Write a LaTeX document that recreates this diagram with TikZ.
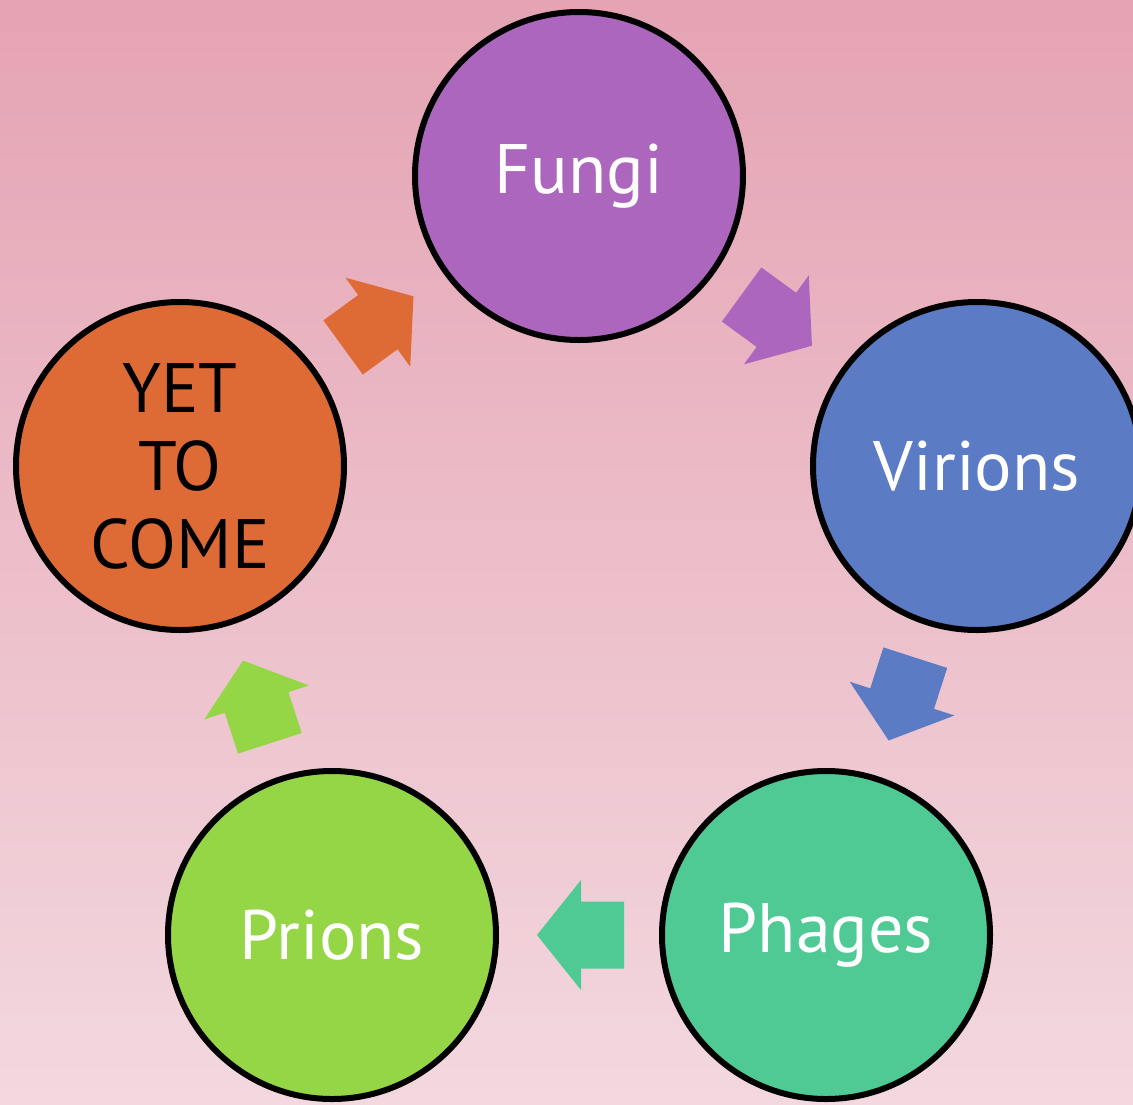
\documentclass[tikz,border=0pt]{standalone}
\usepackage{fontspec}
\setmainfont{PT Sans}
\usetikzlibrary{calc}
\definecolor{bgtop}{HTML}{E5A3B3}
\definecolor{bgbot}{HTML}{F3D8DF}
\definecolor{cfungi}{HTML}{AC66BE}
\definecolor{cvir}{HTML}{5B7BC5}
\definecolor{cphage}{HTML}{4FCA95}
\definecolor{cprion}{HTML}{95D646}
\definecolor{cyet}{HTML}{DE6B36}
\tikzset{
  bubble/.style={circle, draw=black, line width=6pt, minimum size=328pt, inner sep=0pt,
    font=\fontsize{70}{78}\selectfont, text=white, align=center},
}
\newcommand{\blockarrow}[3]{%
  \fill[#3] let \p1=($(#2)-(#1)$), \n1={atan2(\y1,\x1)}, \p2=($(#1)!0.5!(#2)$) in
    [shift={(\p2)}, rotate=\n1]
    (-45,-33.5) -- (-2,-33.5) -- (-2,-55) -- (42,0) -- (-2,55) -- (-2,33.5) -- (-45,33.5) -- cycle;}
\begin{document}
\begin{tikzpicture}[x=1pt,y=-1pt]
\useasboundingbox (0,0) rectangle (1133,1104);
\clip (0,0) rectangle (1133,1104);
\shade[top color=bgtop, bottom color=bgbot] (0,0) rectangle (1133,1104);
\node[bubble, fill=cfungi] (f) at (579,176) {Fungi};
\node[bubble, fill=cvir] (v) at (977,466) {Virions};
\node[bubble, fill=cphage] (ph) at (826,935) {Phages};
\node[bubble, fill=cprion] (pr) at (332,935) {Prions};
\node[bubble, fill=cyet, text=black] (y) at (180,466) {YET\\TO\\COME};
\blockarrow{f}{v}{cfungi}
\blockarrow{v}{ph}{cvir}
\blockarrow{ph}{pr}{cphage}
\blockarrow{pr}{y}{cprion}
\blockarrow{y}{f}{cyet}
\end{tikzpicture}
\end{document}
